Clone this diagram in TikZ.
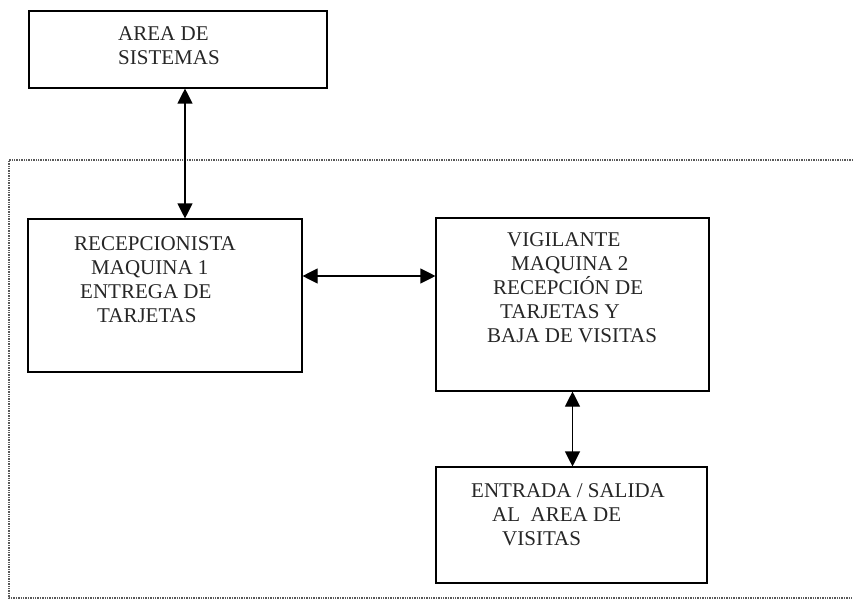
\documentclass[tikz,border=0pt]{standalone}
\usepackage{fontspec}
\setmainfont{Liberation Serif}
\usetikzlibrary{arrows.meta,calc,positioning}

\begin{document}
\begin{tikzpicture}[x = 1pt, y = -1pt,
  caja/.style = {draw, line width = 1.1pt, inner sep = 0pt},
  texto/.style = {inner sep = 0pt, anchor = north west, align = left,
    font = \fontsize{21}{24}\selectfont, text = black!85},
  flecha/.style = {line width = 1.1pt,
    {Triangle[length=15pt,width=15pt]}-{Triangle[length=15pt,width=15pt]}},
  marco/.style = {densely dotted, line width = 1.4pt, black!65}]
\useasboundingbox (0,0) rectangle (853,599);
% marco punteado
\draw[marco] (853,160) -| (9,598) -- (853,598);
% cajas
\node[caja, minimum width = 298pt, minimum height = 77pt] (sis) at (178,49.5) {};
\node[caja, minimum width = 274pt, minimum height = 153pt] (rec) at (165,295.5) {};
\node[caja, minimum width = 273pt, minimum height = 173pt] (vig) at (572.5,304.5) {};
\node[caja, minimum width = 271pt, minimum height = 116pt] (ent) at (571.5,525) {};
% textos
\node[texto] (sist) at (118,26.5) {AREA DE\\SISTEMAS};
\node[texto] (rect) at (74,236) {RECEPCIONISTA\\\hspace*{17pt}MAQUINA 1\\\hspace*{6pt}ENTREGA DE\\\hspace*{23pt}TARJETAS};
\node[texto] (vigt) at (487,232.5) {\hspace*{20pt}VIGILANTE\\\hspace*{24pt}MAQUINA 2\\\hspace*{6pt}RECEPCIÓN DE\\\hspace*{13pt}TARJETAS Y\\BAJA DE VISITAS};
\node[texto] (entt) at (471,483.5) {ENTRADA / SALIDA\\\hspace*{21pt}AL\ \ AREA DE\\\hspace*{31pt}VISITAS};
% flechas
\draw[flecha] ($(sis.south)+(7,0)$) -- ($(rec.north)+(20,0)$);
\draw[flecha] ($(rec.east)+(0,-19.5)$) -- ($(vig.west)+(0,-28.5)$);
\draw[flecha] (vig.south) -- (vig.south |- ent.north);
\end{tikzpicture}
\end{document}
